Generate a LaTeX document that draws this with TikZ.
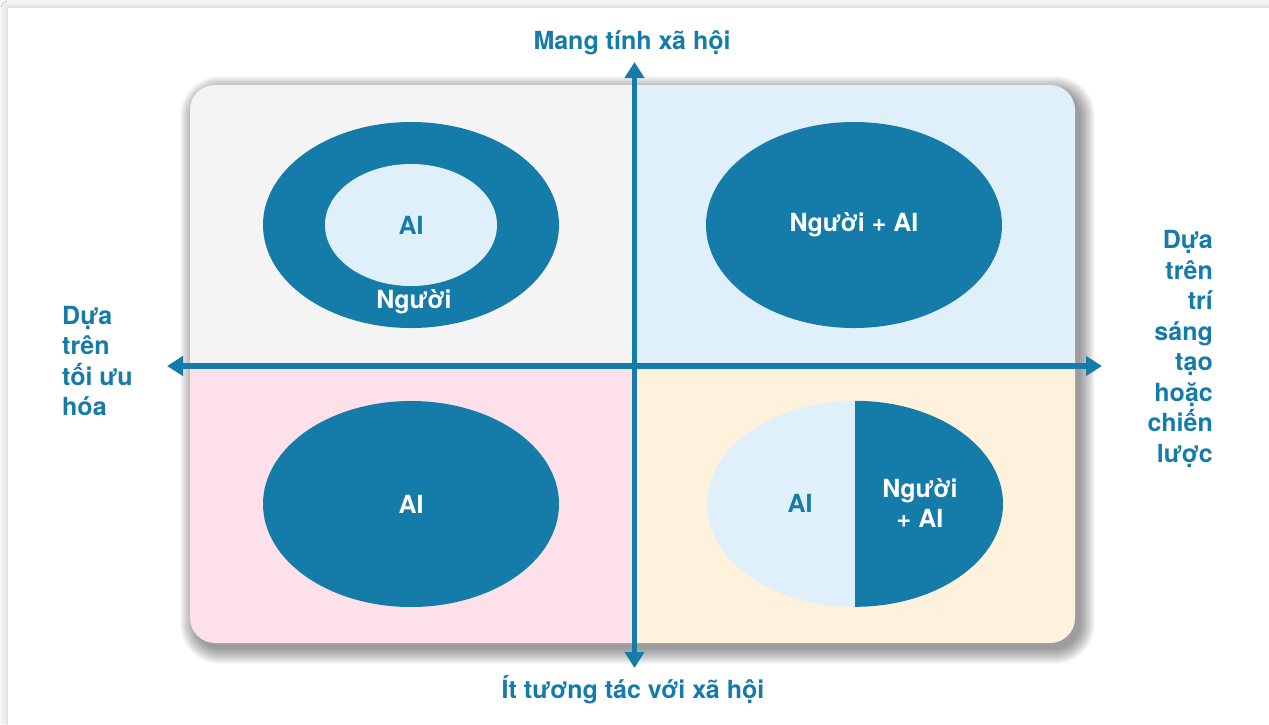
\documentclass[tikz,border=0pt]{standalone}
\usepackage{fontspec}
\setmainfont{TeX Gyre Heros}
\usetikzlibrary{arrows.meta,shadows.blur,shapes.geometric}

\definecolor{pagegray}{HTML}{F7F7F7}
\definecolor{deepblue}{HTML}{157BA8}
\definecolor{paleblue}{HTML}{DFF0FA}
\definecolor{qgray}{HTML}{F4F4F4}
\definecolor{qblue}{HTML}{DFF0FA}
\definecolor{qpink}{HTML}{FDE0EA}
\definecolor{qcream}{HTML}{FEF2DC}

\tikzset{
  axisline/.style={draw=deepblue, line width=5.5pt, {Triangle[width=19pt,length=16pt]}-{Triangle[width=19pt,length=16pt]}},
  axislabel/.style={text=deepblue, font=\bfseries\fontsize{25}{30.5}\selectfont, inner sep=0pt},
  oval/.style={ellipse, inner sep=0pt, minimum width=296pt, minimum height=206pt},
  ovaltext/.style={font=\bfseries\fontsize{25}{30}\selectfont, inner sep=0pt, align=center},
}

\begin{document}
\begin{tikzpicture}[x=1pt,y=-1pt]
\useasboundingbox (0,0) rectangle (1269,724);
\fill[pagegray] (0,0) rectangle (1269,724);

% white card
\fill[white, blur shadow={shadow xshift=0pt, shadow yshift=0pt, shadow blur radius=7pt, shadow opacity=18}]
  (8,8) rectangle (1290,750);

% soft drop shadow of the quadrant panel, built from stacked translucent layers
\foreach \e in {0,...,15} {
  \pgfmathsetmacro\rr{25+\e}
  \fill[black, opacity=0.026, rounded corners=\rr pt]
    (195-\e, 91-\e) rectangle (1080+\e, 649+\e);
}

% quadrant panel
\begin{scope}
  \clip[rounded corners=25pt] (190,85) rectangle (1075,643);
  \fill[qgray]  (180,75) rectangle (634.5,366);
  \fill[qblue]  (634.5,75) rectangle (1085,366);
  \fill[qpink]  (180,366) rectangle (634.5,653);
  \fill[qcream] (634.5,366) rectangle (1085,653);
\end{scope}

% top left: AI inside a ring of people
\node[oval, fill=deepblue] (tlOuter) at (411,225) {};
\node[ellipse, inner sep=0pt, minimum width=172pt, minimum height=122pt, fill=paleblue] (tlInner) at (411,225) {};
\node[ovaltext, text=deepblue] (tlAI) at (tlInner.center) {AI};
\node[ovaltext, text=white] (tlHuman) at (414,302) {Người};

% top right
\node[oval, fill=deepblue] (trOval) at (854,225) {};
\node[ovaltext, text=white] (trText) at (trOval.center) {Người + AI};

% bottom left
\node[oval, fill=deepblue] (blOval) at (411,504) {};
\node[ovaltext, text=white] (blText) at (blOval.center) {AI};

% bottom right: split oval
\node[oval, fill=paleblue] (brOval) at (855,504) {};
\fill[deepblue] (brOval.north) arc[start angle=90, end angle=-90, x radius=148pt, y radius=103pt] -- cycle;
\node[ovaltext, text=deepblue] (brAI) at (800,503) {AI};
\node[ovaltext, text=white] (brMix) at (920,503) {Người\\+ AI};

% axes
\coordinate (axT) at (634.5,62);
\coordinate (axB) at (634.5,668);
\coordinate (axL) at (167,366);
\coordinate (axR) at (1102,366);
\draw[axisline] (axB) -- (axT);
\draw[axisline] (axL) -- (axR);

% axis labels
\node[axislabel] (lblTop) at (632,43) {Mang tính xã hội};
\node[axislabel] (lblBottom) at (633,690) {Ít tương tác với xã hội};
\node[axislabel, align=left, anchor=west] (lblLeft) at (62,361) {Dựa\\trên\\tối ưu\\hóa};
\node[axislabel, align=right, anchor=east] (lblRight) at (1213,349) {Dựa\\trên\\trí\\sáng\\tạo\\hoặc\\chiến\\lược};
\end{tikzpicture}
\end{document}
